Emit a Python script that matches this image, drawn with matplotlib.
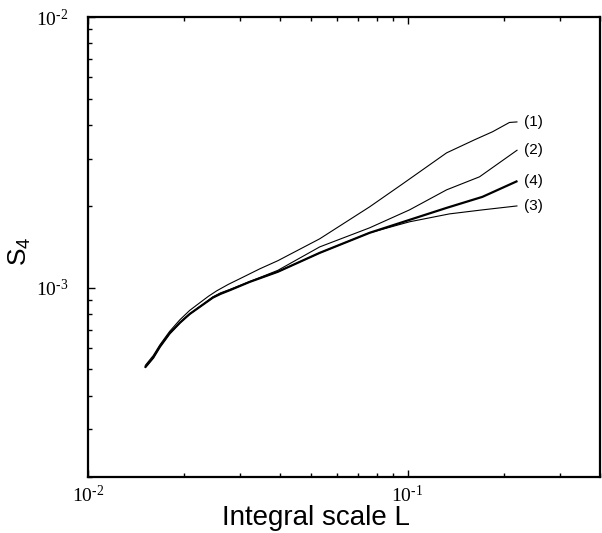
import matplotlib
matplotlib.use("Agg")
import matplotlib.pyplot as plt
from matplotlib.ticker import LogLocator, NullFormatter, FuncFormatter
import numpy as np

plt.rcParams['font.family'] = 'Liberation Serif'
plt.rcParams['mathtext.default'] = 'regular'

# integral scale L and S4 for the four cases
L1 = [0.01507, 0.01600, 0.01679, 0.01800, 0.01939, 0.02080, 0.02239, 0.02380, 0.02529,
      0.02750, 0.02985, 0.03447, 0.03926, 0.05309, 0.07603, 0.09647, 0.1324, 0.1619,
      0.1844, 0.2083, 0.2207]
S1 = [5.15e-4, 5.62e-4, 6.16e-4, 6.90e-4, 7.62e-4, 8.25e-4, 8.81e-4, 9.30e-4, 9.75e-4,
      1.030e-3, 1.080e-3, 1.175e-3, 1.259e-3, 1.517e-3, 1.99e-3, 2.42e-3, 3.15e-3, 3.52e-3,
      3.77e-3, 4.08e-3, 4.10e-3]

L2 = [0.01507, 0.01600, 0.01679, 0.01800, 0.01939, 0.02080, 0.02239, 0.02459, 0.02600,
      0.02779, 0.03209, 0.03926, 0.05309, 0.07603, 0.1014, 0.1324, 0.1679, 0.2207]
S2 = [5.07e-4, 5.52e-4, 6.06e-4, 6.78e-4, 7.43e-4, 8.00e-4, 8.51e-4, 9.26e-4, 9.58e-4,
      9.86e-4, 1.055e-3, 1.16e-3, 1.416e-3, 1.665e-3, 1.94e-3, 2.30e-3, 2.57e-3, 3.23e-3]

L3 = [0.01507, 0.01600, 0.01679, 0.01800, 0.01939, 0.02080, 0.02239, 0.02459, 0.02600,
      0.02779, 0.03209, 0.03926, 0.05309, 0.07603, 0.1014, 0.1352, 0.1714, 0.2207]
S3 = [5.07e-4, 5.52e-4, 6.06e-4, 6.78e-4, 7.43e-4, 8.00e-4, 8.51e-4, 9.20e-4, 9.50e-4,
      9.80e-4, 1.052e-3, 1.146e-3, 1.346e-3, 1.596e-3, 1.753e-3, 1.875e-3, 1.94e-3, 2.007e-3]

L4 = [0.01507, 0.01600, 0.01679, 0.01800, 0.01939, 0.02080, 0.02239, 0.02459, 0.02600,
      0.02779, 0.03209, 0.03926, 0.05309, 0.07603, 0.1014, 0.1324, 0.1714, 0.2207]
S4 = [5.07e-4, 5.52e-4, 6.06e-4, 6.78e-4, 7.43e-4, 8.00e-4, 8.51e-4, 9.20e-4, 9.50e-4,
      9.80e-4, 1.052e-3, 1.146e-3, 1.346e-3, 1.596e-3, 1.782e-3, 1.973e-3, 2.167e-3, 2.48e-3]

labels = ['(1)', '(2)', '(3)', '(4)']

fig = plt.figure(figsize=(6.02, 5.33), dpi=100)
ax = fig.add_axes([0.1462, 0.105, 0.8505, 0.863])

curves = [(L1, S1, 0.8), (L2, S2, 0.8), (L3, S3, 0.8), (L4, S4, 1.6)]
for (lx, sy, lw), lab in zip(curves, labels):
    ax.plot(lx, sy, color='black', lw=lw, solid_capstyle='butt', solid_joinstyle='round')
    ax.annotate(lab, xy=(lx[-1], sy[-1]), xytext=(5, 0), textcoords='offset points',
                va='center', ha='left', fontsize=11, family='Liberation Sans')

ax.set_xscale('log')
ax.set_yscale('log')
ax.set_xlim(0.01, 0.4)
ax.set_ylim(2e-4, 1e-2)


def dec_fmt(v, pos):
    e = int(round(np.log10(v)))
    return '$10^{\u2010%d}$' % abs(e) if e < 0 else '$10^{%d}$' % e


ax.xaxis.set_major_formatter(FuncFormatter(dec_fmt))
ax.yaxis.set_major_formatter(FuncFormatter(dec_fmt))
ax.xaxis.set_minor_locator(LogLocator(base=10, subs=np.arange(2, 10)))
ax.yaxis.set_minor_locator(LogLocator(base=10, subs=np.arange(2, 10)))
ax.xaxis.set_minor_formatter(NullFormatter())
ax.yaxis.set_minor_formatter(NullFormatter())

ax.tick_params(which='both', direction='in', top=True, right=False, width=1)
ax.tick_params(which='major', length=5)
ax.tick_params(which='minor', length=3)
ax.tick_params(axis='x', which='major', labelsize=14, pad=6)
ax.tick_params(axis='y', which='major', labelsize=14, pad=14)

for sp in ax.spines.values():
    sp.set_linewidth(1.6)

ax.set_xlabel('Integral scale L', fontsize=20, family='Liberation Sans')
ax.xaxis.set_label_coords(0.445, -0.06)
ax.set_ylabel('S$_4$', fontsize=19, family='Liberation Sans')
ax.yaxis.set_label_coords(-0.108, 0.49)

plt.savefig('out.png', dpi=100)
